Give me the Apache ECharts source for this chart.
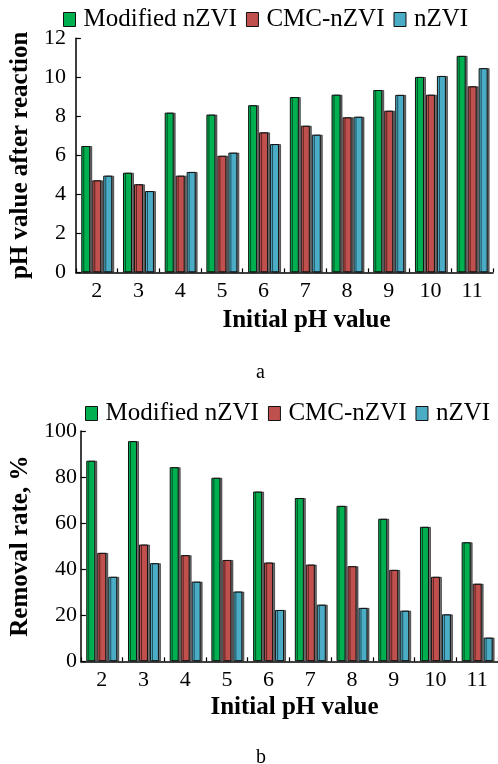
<!DOCTYPE html>
<html>
<head>
<meta charset="utf-8">
<script src="https://cdn.jsdelivr.net/npm/echarts@6/dist/echarts.min.js"></script>
<style>
html,body{margin:0;padding:0;background:#fff;}
#chart{width:498px;height:764px;}
</style>
</head>
<body>
<div id="chart"></div>
<script>
// Data
var categories = ['2','3','4','5','6','7','8','9','10','11'];
var seriesNames = ['Modified nZVI','CMC-nZVI','nZVI'];
var colors = ['#00b050','#c0504d','#4bacc6'];

// (a) pH value after reaction
var phModified = [6.48,5.11,8.19,8.09,8.57,8.99,9.11,9.35,10.02,11.10];
var phCMC      = [4.72,4.52,4.96,5.98,7.18,7.52,7.95,8.29,9.11,9.54];
var phNZVI     = [4.96,4.17,5.15,6.14,6.58,7.06,7.98,9.10,10.07,10.47];

// (b) Removal rate, %
var remModified = [87.1,95.6,84.3,79.7,73.7,70.9,67.5,61.9,58.4,51.7];
var remCMC      = [47.1,50.7,46.1,44.0,42.9,42.0,41.3,39.7,36.7,33.7];
var remNZVI     = [36.7,42.6,34.6,30.3,22.3,24.6,23.2,22.0,20.4,10.3];

var yTicksA = [0,2,4,6,8,10,12];
var yTicksB = [0,20,40,60,80,100];

var FONT = '"Liberation Serif","Times New Roman",serif';

function xAxisCfg(gridIndex, nameGap, padLeft){
  return {
    type:'category', gridIndex:gridIndex, data:categories,
    boundaryGap:true,
    axisLine:{lineStyle:{color:'#000',width:1.5}},
    axisTick:{show:true,inside:true,length:4,alignWithLabel:false,lineStyle:{color:'#000',width:1.2}},
    axisLabel:{color:'#000',fontFamily:FONT,fontSize:22,margin:8},
    name:'Initial pH value', nameLocation:'middle', nameGap:nameGap,
    nameTextStyle:{color:'#000',fontFamily:FONT,fontSize:25,fontWeight:'bold',padding:[0,0,0,padLeft]}
  };
}
function yAxisCfg(gridIndex, max, interval, name, nameGap, labelMargin){
  return {
    type:'value', gridIndex:gridIndex, min:0, max:max, interval:interval,
    axisLine:{show:true,lineStyle:{color:'#000',width:1.5}},
    axisTick:{show:true,inside:true,length:5,lineStyle:{color:'#000',width:1.2}},
    splitLine:{show:false},
    axisLabel:{color:'#000',fontFamily:FONT,fontSize:22,margin:labelMargin},
    name:name, nameLocation:'middle', nameGap:nameGap, nameRotate:90,
    nameTextStyle:{color:'#000',fontFamily:FONT,fontSize:25,fontWeight:'bold'}
  };
}
function barSeries(name, data, idx, color){
  return {
    type:'bar', name:name, data:data, xAxisIndex:idx, yAxisIndex:idx,
    barWidth:9, barGap:'22%',
    itemStyle:{color:color,borderColor:'#111',borderWidth:1,
      shadowColor:'rgba(0,0,0,0.55)',shadowOffsetX:2,shadowOffsetY:0,shadowBlur:0},
    emphasis:{disabled:true}
  };
}
function legendCfg(top, left){
  return {
    top:top, left:left, itemWidth:12, itemHeight:14, itemGap:9,
    icon:'rect',
    data:seriesNames.map(function(n,i){return {name:n,itemStyle:{color:colors[i],borderColor:'#111',borderWidth:1}};}),
    textStyle:{color:'#000',fontFamily:FONT,fontSize:25,padding:[0,0,0,3]},
    selectedMode:false
  };
}

var chart = echarts.init(document.getElementById('chart'), null, {renderer:'canvas'});
chart.setOption({
  animation:false,
  backgroundColor:'#fff',
  title:[
    {text:'a', left:251, top:358, textStyle:{color:'#000',fontFamily:FONT,fontSize:20,fontWeight:'normal'}},
    {text:'b', left:251, top:743, textStyle:{color:'#000',fontFamily:FONT,fontSize:20,fontWeight:'normal'}}
  ],
  legend:[ legendCfg(2, 58), legendCfg(396, 80) ],
  grid:[
    {left:65.7, top:38.3, right:5, bottom:764-272.4, containLabel:false},
    {left:80, top:431, right:-3.6, bottom:764-661.3, containLabel:false}
  ],
  xAxis:[ xAxisCfg(0, 36, 44), xAxisCfg(1, 34, 10) ],
  yAxis:[
    yAxisCfg(0, yTicksA[yTicksA.length-1], yTicksA[1]-yTicksA[0], 'pH value after reaction', 28, 10),
    yAxisCfg(1, yTicksB[yTicksB.length-1], yTicksB[1]-yTicksB[0], 'Removal rate, %', 35, 4)
  ],
  series:[
    barSeries(seriesNames[0], phModified, 0, colors[0]),
    barSeries(seriesNames[1], phCMC, 0, colors[1]),
    barSeries(seriesNames[2], phNZVI, 0, colors[2]),
    barSeries(seriesNames[0], remModified, 1, colors[0]),
    barSeries(seriesNames[1], remCMC, 1, colors[1]),
    barSeries(seriesNames[2], remNZVI, 1, colors[2])
  ]
});
</script>
</body>
</html>
